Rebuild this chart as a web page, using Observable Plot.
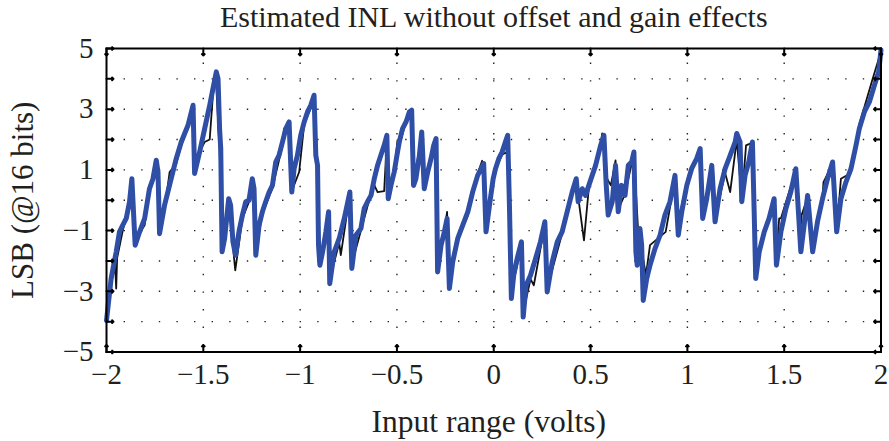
<!DOCTYPE html>
<html><head><meta charset="utf-8">
<script src="https://cdn.jsdelivr.net/npm/d3@7"></script>
<script src="https://cdn.jsdelivr.net/npm/@observablehq/plot@0.6"></script>
<style>
body{margin:0;background:#fff;}
</style></head><body>
<div id="chart"></div>
<script>
const titleText = "Estimated INL without offset and gain effects";
const xLabel = "Input range (volts)";
const yLabel = "LSB (@16 bits)";
const xTicks = [-2, -1.5, -1, -0.5, 0, 0.5, 1, 1.5, 2];
const yTickMarks = [-5, -4, -3, -2, -1, 0, 1, 2, 3, 4, 5];
const yTickLabels = [-5, -3, -1, 1, 3, 5];
const xGrid = [-1.5, -1, -0.5, 0, 0.5, 1, 1.5];
const yGrid = [-4, -3, -2, -1, 0, 1, 2, 3, 4];

// blue series (estimated INL), [volts, LSB]
const bluePoints = [
[-2.000,-3.96],[-1.976,-2.58],[-1.950,-1.70],[-1.933,-1.04],[-1.916,-0.82],[-1.898,-0.60],[-1.881,-0.05],[-1.869,0.71],[-1.852,-1.48],[-1.829,-1.04],
[-1.803,-0.60],[-1.778,0.38],[-1.760,0.71],[-1.743,1.32],[-1.734,0.93],[-1.726,-1.10],[-1.700,-0.16],[-1.666,0.71],[-1.640,1.37],[-1.614,1.92],
[-1.579,2.47],[-1.553,3.13],[-1.545,0.88],[-1.519,1.59],[-1.493,2.36],[-1.467,3.13],[-1.450,3.68],[-1.433,4.23],[-1.424,4.01],[-1.416,2.36],
[-1.410,1.70],[-1.403,-1.70],[-1.390,-1.26],[-1.369,0.05],[-1.359,-0.16],[-1.347,-1.37],
[-1.333,-1.81],[-1.316,-1.04],[-1.298,-0.49],[-1.281,-0.05],[-1.264,0.00],[-1.247,0.71],[-1.238,0.38],[-1.229,-1.81],[-1.212,-0.82],[-1.195,-0.38],
[-1.178,-0.05],[-1.160,0.27],[-1.143,0.49],[-1.126,1.26],[-1.109,1.48],[-1.091,1.92],[-1.074,2.36],[-1.057,2.58],[-1.043,0.27],[-1.031,1.04],
[-1.014,1.48],[-0.997,2.14],[-0.979,2.58],[-0.962,2.91],[-0.945,3.13],[-0.928,3.46],[-0.919,1.48],[-0.910,1.15],[-0.905,-1.48],[-0.898,-2.14],
[-0.884,-1.70],[-0.867,-1.04],[-0.853,-0.38],[-0.847,-2.75],[-0.824,-1.70],[-0.798,-1.26],[-0.772,-0.60],[-0.743,0.27],[-0.733,-2.25],[-0.712,-1.15],
[-0.686,-0.93],[-0.669,-0.27],
[-0.652,-0.05],[-0.634,0.16],[-0.617,0.71],[-0.600,1.15],[-0.583,1.48],[-0.566,1.81],[-0.552,2.14],[-0.545,0.05],[-0.531,0.49],[-0.514,0.93],
[-0.500,1.48],[-0.488,1.92],[-0.471,2.36],[-0.453,2.58],[-0.436,2.91],[-0.424,2.97],[-0.414,0.49],[-0.402,0.71],[-0.384,1.48],[-0.372,2.25],
[-0.359,0.38],[-0.341,0.93],[-0.324,1.37],[-0.310,1.81],[-0.298,2.03],[-0.290,-2.36],[-0.272,-1.48],[-0.255,-1.04],[-0.241,-0.60],[-0.229,-2.91],
[-0.212,-2.03],[-0.186,-1.26],[-0.160,-0.82],[-0.134,-0.38],[-0.109,0.27],[-0.083,0.82],[-0.052,1.21],[-0.040,-1.04],[-0.022,-0.16],[-0.003,0.71],
[0.009,1.04],[0.026,1.37],[0.043,1.59],[0.060,1.92],[0.072,2.14],[0.081,-0.16],[0.091,-3.24],[0.103,-2.47],[0.121,-1.92],[0.143,-1.37],
[0.152,-3.85],[0.167,-2.80],[0.190,-2.47],[0.216,-1.92],[0.241,-1.37],[0.264,-0.71],[0.276,-3.02],[0.302,-2.03],[0.328,-1.37],[0.353,-1.04],
[0.379,-0.38],[0.405,0.27],[0.426,0.71],[0.436,-0.05],[0.457,0.38],[0.474,0.16],[0.491,0.49],[0.526,1.15],[0.552,1.81],[0.569,2.14],
[0.581,0.49],[0.591,-0.49],[0.612,-0.05],[0.629,1.15],[0.643,-0.38],
[0.660,0.49],[0.678,0.16],[0.695,1.15],[0.712,1.26],[0.724,1.59],[0.734,-1.70],[0.741,-2.14],[0.755,-0.93],[0.764,-1.48],[0.772,-3.30],
[0.790,-2.58],[0.807,-2.14],[0.833,-1.59],[0.859,-1.15],[0.884,-0.49],[0.910,-0.05],[0.936,0.82],[0.953,-1.15],[0.971,-0.38],[0.997,0.49],
[1.022,1.04],[1.048,1.37],[1.066,1.70],[1.079,-0.60],[1.100,0.05],[1.126,1.15],[1.143,-0.71],[1.169,0.38],[1.195,1.04],[1.221,1.48],
[1.247,1.92],[1.255,2.20],[1.272,1.92],[1.281,-0.05],[1.298,0.82],[1.317,1.26],
[1.336,1.92],[1.345,-0.38],[1.353,-2.58],[1.371,-1.70],[1.397,-1.04],[1.422,-0.60],[1.448,0.05],[1.460,-2.14],[1.483,-1.04],[1.509,-0.27],
[1.534,0.27],[1.560,1.04],[1.586,-1.70],[1.603,-0.82],[1.621,0.16],[1.647,-1.70],[1.672,-0.71],[1.698,0.05],[1.724,0.71],[1.750,1.26],
[1.771,-1.04],[1.793,0.05],[1.819,0.60],[1.845,1.04],[1.871,1.81],[1.888,2.36],[1.914,2.91],[1.940,3.24],[1.966,3.79],[1.988,4.23],[2.000,4.95]
];

// black series (reference INL), [volts, LSB]
const blackPoints = [
[-2.000,-3.70],[-1.976,-2.70],[-1.955,-2.20],[-1.950,-2.91],[-1.945,-1.90],[-1.916,-1.00],[-1.881,-0.10],[-1.869,0.60],[-1.852,-1.30],[-1.803,-0.82],
[-1.778,0.30],[-1.743,1.20],[-1.726,-1.15],[-1.700,-0.30],[-1.674,0.93],[-1.640,1.20],[-1.614,1.80],[-1.579,2.40],[-1.553,3.00],[-1.545,1.00],
[-1.519,1.60],[-1.493,1.92],[-1.467,2.00],[-1.450,3.50],[-1.436,4.10],[-1.416,1.70],[-1.403,-1.15],[-1.390,-1.20],[-1.369,-0.10],[-1.335,-2.31],
[-1.298,-0.60],[-1.264,-0.05],[-1.247,0.60],[-1.229,-1.70],[-1.195,-0.45],[-1.143,0.40],[-1.091,1.80],[-1.083,2.36],[-1.057,2.40],[-1.043,0.30],
[-1.005,0.93],[-0.979,2.50],[-0.928,3.30],[-0.910,1.20],[-0.898,-2.00],[-0.853,-0.50],[-0.847,-2.60],[-0.798,-1.40],[-0.790,-1.81],[-0.743,0.20],
[-0.733,-2.10],[-0.686,-1.00],
[-0.652,-0.20],[-0.617,0.50],[-0.600,0.27],[-0.566,0.30],[-0.552,2.00],[-0.545,0.20],[-0.514,0.90],[-0.497,1.98],[-0.488,1.80],[-0.453,2.60],
[-0.424,2.90],[-0.414,0.60],[-0.372,2.10],[-0.359,0.50],[-0.298,1.90],[-0.290,-2.20],[-0.255,-1.00],[-0.241,-0.38],[-0.229,-2.80],[-0.186,-1.30],
[-0.134,-0.50],[-0.083,0.88],[-0.060,1.30],[-0.040,-1.00],[-0.003,0.60],
[0.009,1.00],[0.043,1.50],[0.069,1.60],[0.081,-0.30],[0.091,-3.00],[0.143,-1.50],[0.152,-3.70],[0.190,-2.60],[0.207,-2.80],[0.264,-0.80],
[0.276,-2.90],[0.353,-1.10],[0.405,0.20],[0.426,0.60],[0.466,-1.32],[0.491,0.40],[0.552,1.80],[0.560,2.20],[0.586,0.70],[0.605,0.49],
[0.629,1.31],[0.643,-0.30],
[0.678,0.20],[0.712,1.20],[0.724,1.48],[0.745,-0.93],[0.786,-2.47],[0.807,-1.48],[0.888,-1.04],[0.936,0.70],[0.953,-1.00],[0.971,-0.16],
[1.005,0.82],[1.066,1.60],[1.079,-0.50],[1.126,1.00],[1.143,-0.60],[1.195,0.90],[1.221,0.27],[1.255,2.00],[1.281,0.00],[1.303,1.81],
[1.336,1.90],[1.353,-1.92],[1.397,-1.10],[1.448,0.00],[1.460,-1.90],[1.474,-0.60],[1.483,-0.60],[1.560,1.00],[1.586,-1.50],[1.590,-0.49],
[1.621,0.10],[1.647,-1.60],[1.698,0.10],[1.703,0.60],[1.750,1.20],[1.771,-1.00],[1.793,0.71],[1.845,0.90],[1.888,2.50],[1.957,4.00],[2.000,4.90]
];

const blue = bluePoints.map(([x, y]) => ({x, y}));
const black = blackPoints.map(([x, y]) => ({x, y}));

const FONT = "Liberation Serif";
const INK = "#231f20";
const fmt = d => (d < 0 ? "\u2212" : "") + String(Math.abs(d));

const chart = Plot.plot({
  width: 889,
  height: 441,
  marginTop: 48,
  marginBottom: 89.5,
  marginLeft: 106,
  marginRight: 8.5,
  style: {fontFamily: FONT, color: INK, background: "#fff", overflow: "visible"},
  x: {domain: [-2, 2]},
  y: {domain: [-5, 5]},
  marks: [
    Plot.ruleY(yGrid, {y: d => d, stroke: "#222", strokeWidth: 1.4, strokeDasharray: "1.4,16.2"}),
    Plot.ruleX(xGrid, {x: d => d, stroke: "#222", strokeWidth: 1.4, strokeDasharray: "1.4,16.2", strokeDashoffset: 3}),
    Plot.line(black, {x: "x", y: "y", stroke: "#111", strokeWidth: 1.8, strokeLinejoin: "round"}),
    Plot.line(blue, {x: "x", y: "y", stroke: "#2e4fa5", strokeWidth: 5, strokeLinejoin: "round"}),
    Plot.vector(xTicks, {x: d => d, frameAnchor: "bottom", length: 7, rotate: 0, anchor: "start", stroke: "#000", strokeWidth: 2}),
    Plot.vector(xTicks, {x: d => d, frameAnchor: "top", length: 7, rotate: 180, anchor: "start", stroke: "#000", strokeWidth: 2}),
    Plot.vector(yTickMarks, {y: d => d, frameAnchor: "left", length: 7, rotate: 90, anchor: "start", stroke: "#000", strokeWidth: 2}),
    Plot.vector(yTickMarks, {y: d => d, frameAnchor: "right", length: 7, rotate: -90, anchor: "start", stroke: "#000", strokeWidth: 2}),
    Plot.axisX({ticks: xTicks, tickSize: 0, tickPadding: 11, fontSize: 29, tickFormat: fmt, label: null}),
    Plot.axisY({ticks: yTickLabels, tickSize: 0, tickPadding: 13, fontSize: 29, tickFormat: fmt, label: null}),
    Plot.frame({stroke: "#000", strokeWidth: 2}),
    Plot.text([titleText], {frameAnchor: "top", lineAnchor: "middle", dy: -31, fontSize: 30, fill: INK}),
    Plot.text([xLabel], {frameAnchor: "bottom", lineAnchor: "middle", textAnchor: "middle", dy: 70, dx: -5, fontSize: 31.5, fill: INK}),
    Plot.text([yLabel], {frameAnchor: "left", lineAnchor: "middle", textAnchor: "middle", dx: -83, rotate: -90, fontSize: 31, fill: INK})
  ]
});
document.getElementById("chart").append(chart);
</script>
</body></html>
